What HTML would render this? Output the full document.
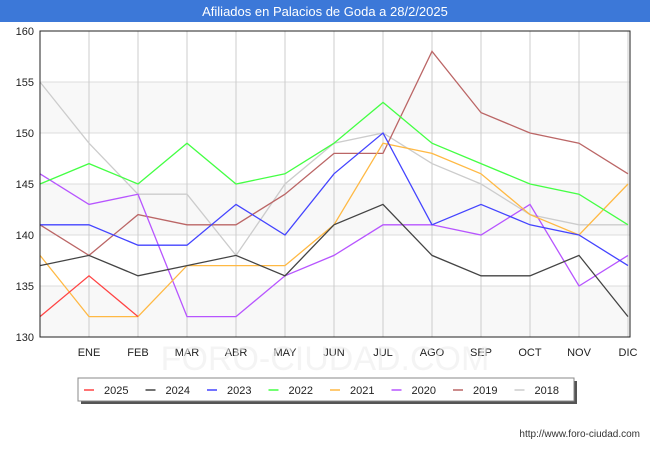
<!DOCTYPE html>
<html><head><meta charset="utf-8"><style>
body{margin:0;width:650px;height:450px;background:#fff;font-family:"Liberation Sans",sans-serif;overflow:hidden}
</style></head><body>
<svg width="650" height="450" xmlns="http://www.w3.org/2000/svg">
<rect x="0" y="0" width="650" height="22" fill="#3c78d8"/>
<text x="325" y="16" text-anchor="middle" fill="#fff" font-size="13">Afiliados en Palacios de Goda a 28/2/2025</text>
<g id="bands"></g><g id="grid"></g><g id="series"></g><g id="axes"></g>
<text x="325" y="370" text-anchor="middle" font-size="34" fill="#eee" opacity="0.6">FORO-CIUDAD.COM</text>
<rect x="81" y="381" width="496" height="23" fill="#555"/>
<rect x="78" y="378" width="496" height="23" fill="#fff" stroke="#888"/>
<g id="legend"></g>
<text x="640" y="437" text-anchor="end" font-size="10" fill="#333">http://www.foro-ciudad.com</text>
</svg>
<script>
const months=["","ENE","FEB","MAR","ABR","MAY","JUN","JUL","AGO","SEP","OCT","NOV","DIC"];
const yTicks=[130,135,140,145,150,155,160];
const seriesNames=["2025","2024","2023","2022","2021","2020","2019","2018"];
const colors=["#ff4444","#444444","#4444ff","#44ff44","#ffb944","#b755ff","#bb6666","#cccccc"];
const s2025=[132,136,132];
const s2024=[137,138,136,137,138,136,141,143,138,136,136,138,132];
const s2023=[141,141,139,139,143,140,146,150,141,143,141,140,137];
const s2022=[145,147,145,149,145,146,149,153,149,147,145,144,141];
const s2021=[138,132,132,137,137,137,141,149,148,146,142,140,145];
const s2020=[146,143,144,132,132,136,138,141,141,140,143,135,138];
const s2019=[141,138,142,141,141,144,148,148,158,152,150,149,146];
const s2018=[155,149,144,144,138,145,149,150,147,145,142,141,141];
const data=[s2025,s2024,s2023,s2022,s2021,s2020,s2019,s2018];
const NS="http://www.w3.org/2000/svg";
const x0=40,x1=630,yT=31,yB=337,ymin=130,ymax=160;
const X=i=>x0+i*(x1-x0-2)/12;
const Y=v=>yB-(v-ymin)*(yB-yT)/(ymax-ymin);
function mk(p,t,a){const e=document.createElementNS(NS,t);for(const k in a)e.setAttribute(k,a[k]);document.getElementById(p).appendChild(e);return e;}
for(let i=0;i<yTicks.length-1;i+=2){const b=mk('bands','rect',{x:x0,y:Y(yTicks[i+1]),width:x1-x0,height:Y(yTicks[i])-Y(yTicks[i+1]),fill:'#f8f8f8'});

}
yTicks.forEach(v=>{const l=mk('grid','line',{x1:x0,x2:x1,y1:Y(v),y2:Y(v),stroke:'#ddd'});


const t=mk('axes','text',{x:x0-6,y:Y(v)+4,'text-anchor':'end','font-size':11,fill:'#222'});t.textContent=v;

});
months.forEach((m,i)=>{if(i>0){const l=mk('grid','line',{x1:X(i),x2:X(i),y1:yT,y2:yB,stroke:'#ccc'});

}
const t=mk('axes','text',{x:X(i),y:yB+19,'text-anchor':'middle','font-size':11,fill:'#222'});t.textContent=m;

});
const fr=mk('axes','rect',{x:x0,y:yT,width:x1-x0,height:yB-yT,fill:'none',stroke:'#222'});


for(let k=data.length-1;k>=0;k--){const p=mk('series','polyline',{points:data[k].map((v,i)=>X(i)+','+Y(v)).join(' '),fill:'none',stroke:colors[k],'stroke-width':1.3});

}
seriesNames.forEach((n,k)=>{const lx=84+k*61.5;
const l=mk('legend','line',{x1:lx,x2:lx+10,y1:390,y2:390,stroke:colors[k],'stroke-width':1.5});


const t=mk('legend','text',{x:lx+20,y:394,'font-size':11,fill:'#222'});t.textContent=n;

});
</script>
</body></html>
